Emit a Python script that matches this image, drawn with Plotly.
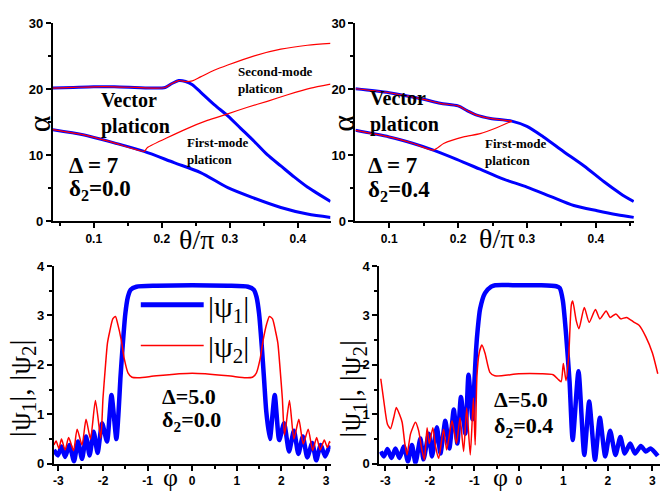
import plotly.graph_objects as go

# ---------------- data ----------------
# Top-left panel (delta2 = 0.0): alpha vs theta/pi
tl_upper_theta = [0.04, 0.07, 0.10, 0.13, 0.16, 0.19, 0.205, 0.215, 0.225, 0.235, 0.245, 0.257, 0.277, 0.297, 0.316, 0.336, 0.355, 0.375, 0.395, 0.414, 0.434, 0.448]
tl_upper_alpha = [20.2, 20.3, 20.4, 20.4, 20.3, 20.2, 20.3, 20.9, 21.35, 21.2, 20.7, 19.6, 17.7, 16.0, 14.1, 12.1, 10.1, 8.4, 6.7, 5.2, 3.9, 3.0]
tl_lower_theta = [0.04, 0.086, 0.13, 0.174, 0.218, 0.257, 0.297, 0.336, 0.375, 0.414, 0.448]
tl_lower_alpha = [13.9, 13.1, 11.9, 10.6, 8.9, 7.4, 5.1, 3.5, 2.1, 1.1, 0.6]
tl_red2_theta = [0.04, 0.07, 0.10, 0.13, 0.16, 0.19, 0.205, 0.215, 0.225, 0.235, 0.245, 0.257, 0.277, 0.297, 0.336, 0.375, 0.414, 0.448]
tl_red2_alpha = [20.2, 20.3, 20.4, 20.4, 20.3, 20.2, 20.3, 20.9, 21.35, 21.2, 21.3, 21.9, 22.9, 23.7, 25.1, 26.1, 26.7, 27.0]
tl_red1_theta = [0.04, 0.086, 0.13, 0.174, 0.179, 0.238, 0.267, 0.297, 0.326, 0.355, 0.385, 0.419, 0.448]
tl_red1_alpha = [13.9, 13.1, 11.9, 10.6, 11.2, 14.1, 15.3, 16.3, 17.3, 18.2, 19.2, 20.2, 20.8]

# Top-right panel (delta2 = 0.4)
tr_upper_theta = [0.051, 0.10, 0.15, 0.174, 0.20, 0.213, 0.227, 0.247, 0.278, 0.30, 0.324, 0.353, 0.383, 0.412, 0.436, 0.455]
tr_upper_alpha = [20.1, 19.5, 18.5, 17.9, 17.5, 16.8, 16.1, 15.6, 15.2, 14.4, 12.8, 10.6, 8.4, 6.0, 4.2, 3.0]
tr_lower_theta = [0.051, 0.10, 0.135, 0.164, 0.198, 0.232, 0.266, 0.30, 0.334, 0.368, 0.402, 0.431, 0.455]
tr_lower_alpha = [13.8, 12.8, 11.8, 10.8, 9.4, 7.9, 6.4, 5.2, 3.8, 2.4, 1.6, 1.0, 0.6]
tr_red_up_theta = [0.051, 0.10, 0.15, 0.174, 0.20, 0.213, 0.227, 0.247, 0.278]
tr_red_up_alpha = [20.1, 19.5, 18.5, 17.9, 17.5, 16.8, 16.1, 15.6, 15.2]
tr_red_low_theta = [0.051, 0.10, 0.135, 0.164, 0.179, 0.208, 0.232, 0.256, 0.278]
tr_red_low_alpha = [13.8, 12.8, 11.8, 10.8, 11.8, 12.8, 13.3, 14.2, 15.2]

# Bottom-left panel (Delta = 5.0, delta2 = 0.0): |psi1|, |psi2| vs phi
bl_psi1_phi = [-3.10, -3.01, -2.93, -2.85, -2.75, -2.65, -2.56, -2.47, -2.38, -2.30, -2.21, -2.12, -2.02, -1.91, -1.81, -1.70,
               -1.65, -1.61, -1.56, -1.50, -1.44, -1.38, -1.25, -0.8, 0.0, 0.8, 1.25, 1.38, 1.44, 1.50, 1.56, 1.61, 1.66,
               1.74, 1.85, 1.95, 2.06, 2.17, 2.28, 2.38, 2.48, 2.58, 2.69, 2.78, 2.88, 2.98, 3.07, 3.10]
bl_psi1_val = [0.28, 0.17, 0.35, 0.14, 0.38, 0.05, 0.45, 0.10, 0.55, 0.17, 0.65, 0.22, 0.82, 0.45, 1.39, 0.50,
               1.06, 1.72, 2.37, 3.03, 3.38, 3.52, 3.58, 3.60, 3.61, 3.60, 3.58, 3.52, 3.38, 3.03, 2.37, 1.72, 1.06,
               0.50, 1.39, 0.48, 0.82, 0.25, 0.67, 0.20, 0.55, 0.13, 0.42, 0.07, 0.38, 0.15, 0.33, 0.30]
bl_psi2_phi = [-3.10, -3.05, -2.99, -2.93, -2.85, -2.77, -2.66, -2.58, -2.47, -2.38, -2.28, -2.17, -2.05, -2.00, -1.95, -1.90,
               -1.85, -1.78, -1.72, -1.67, -1.59, -1.52, -1.44, -1.35, -1.2, -0.8, 0.0, 0.8, 1.2, 1.35, 1.44, 1.52, 1.59,
               1.67, 1.73, 1.80, 1.87, 1.92, 1.97, 2.02, 2.07, 2.18, 2.28, 2.39, 2.49, 2.60, 2.70, 2.79, 2.87, 2.96, 3.03, 3.08, 3.10]
bl_psi2_val = [0.38, 0.46, 0.31, 0.50, 0.28, 0.53, 0.27, 0.70, 0.38, 0.90, 0.50, 1.28, 0.52, 1.33, 1.92, 2.44,
               2.67, 2.93, 2.98, 2.83, 2.50, 2.11, 1.84, 1.75, 1.74, 1.78, 1.83, 1.78, 1.74, 1.75, 1.84, 2.11, 2.50,
               2.83, 2.98, 2.93, 2.67, 2.44, 1.92, 1.33, 0.58, 1.28, 0.50, 0.90, 0.40, 0.70, 0.27, 0.53, 0.28, 0.48, 0.33, 0.45, 0.42]

# Bottom-right panel (Delta = 5.0, delta2 = 0.4)
br_psi1_phi = [-3.10, -3.03, -2.95, -2.86, -2.77, -2.68, -2.58, -2.49, -2.40, -2.32, -2.21, -2.14, -2.02, -1.95, -1.84, -1.76,
               -1.65, -1.56, -1.46, -1.38, -1.30, -1.20, -1.13, -1.04, -1.00, -0.96, -0.92, -0.87, -0.76, -0.62, -0.53,
               0.0, 0.5, 0.84, 0.92, 0.99, 1.06, 1.14, 1.21, 1.34, 1.47, 1.58, 1.71, 1.82, 1.94, 2.05, 2.17, 2.28, 2.38,
               2.50, 2.61, 2.74, 2.85, 2.96, 3.12]
br_psi1_val = [0.25, 0.15, 0.30, 0.12, 0.31, 0.12, 0.35, 0.05, 0.38, 0.02, 0.51, 0.09, 0.61, 0.15, 0.74, 0.21,
               0.87, 0.31, 1.10, 0.41, 1.35, 0.61, 1.80, 0.90, 1.60, 2.30, 2.75, 3.13, 3.45, 3.58, 3.61,
               3.61, 3.61, 3.59, 3.55, 3.29, 2.63, 1.65, 0.48, 1.87, 0.18, 1.26, 0.08, 0.93, 0.15, 0.67, 0.18, 0.54, 0.21,
               0.41, 0.21, 0.36, 0.25, 0.31, 0.16]
br_psi2_phi = [-3.10, -3.03, -2.95, -2.88, -2.81, -2.75, -2.68, -2.62, -2.56, -2.51, -2.43, -2.32, -2.25, -2.17, -2.12, -2.06,
               -2.01, -1.93, -1.87, -1.80, -1.69, -1.62, -1.50, -1.40, -1.32, -1.24, -1.17, -1.09, -1.02, -0.98, -0.94,
               -0.89, -0.83, -0.76, -0.65, -0.54, 0.0, 0.5, 0.77, 0.88, 0.95, 1.00, 1.06, 1.12, 1.18, 1.21, 1.29, 1.35,
               1.47, 1.58, 1.72, 1.82, 1.96, 2.05, 2.18, 2.29, 2.42, 2.59, 2.70, 2.85, 3.00, 3.12]
br_psi2_val = [1.72, 1.26, 0.80, 0.71, 0.93, 1.14, 1.00, 0.84, 0.41, 0.18, 0.61, 0.84, 0.67, 0.25, 0.08, 0.73,
               0.41, 0.73, 0.35, 0.11, 0.70, 0.28, 0.87, 0.41, 0.93, 0.25, 1.13, 0.18, 1.33, 0.38, 1.78,
               2.24, 2.40, 2.24, 1.85, 1.78, 1.82, 1.82, 1.80, 1.71, 1.66, 2.03, 1.68, 2.18, 3.22, 3.29, 2.89, 2.73,
               3.16, 2.86, 3.12, 2.93, 3.09, 2.96, 3.03, 2.93, 2.96, 2.86, 2.80, 2.57, 2.24, 1.82]

BLUE = "#0000FF"
RED = "#FF0000"
SERIF = "Liberation Serif, Times New Roman, serif"
SANS = "Liberation Sans, Arial, sans-serif"
W, H = 660, 498

def px(X):
    return X / W

def py(Y):
    return 1 - Y / H

fig = go.Figure()

def add_line(x, y, axis, color, width, shape="spline", smoothing=0.8):
    xa, ya = axis
    fig.add_trace(go.Scatter(x=x, y=y, mode="lines", xaxis=xa, yaxis=ya, showlegend=False,
                             line=dict(color=color, width=width, shape=shape, smoothing=smoothing),
                             hoverinfo="skip"))

# top-left
add_line(tl_upper_theta, tl_upper_alpha, ("x", "y"), BLUE, 3)
add_line(tl_lower_theta, tl_lower_alpha, ("x", "y"), BLUE, 3)
add_line(tl_red2_theta, tl_red2_alpha, ("x", "y"), RED, 1.2)
add_line(tl_red1_theta, tl_red1_alpha, ("x", "y"), RED, 1.2, smoothing=0.5)
# top-right
add_line(tr_upper_theta, tr_upper_alpha, ("x2", "y2"), BLUE, 3)
add_line(tr_lower_theta, tr_lower_alpha, ("x2", "y2"), BLUE, 3)
add_line(tr_red_up_theta, tr_red_up_alpha, ("x2", "y2"), RED, 1.2)
add_line(tr_red_low_theta, tr_red_low_alpha, ("x2", "y2"), RED, 1.2, smoothing=0.5)
# bottom-left
add_line(bl_psi1_phi, bl_psi1_val, ("x3", "y3"), BLUE, 4.5, smoothing=0.6)
add_line(bl_psi2_phi, bl_psi2_val, ("x3", "y3"), RED, 1.5, smoothing=0.6)
# bottom-right
add_line(br_psi1_phi, br_psi1_val, ("x4", "y4"), BLUE, 4.5, smoothing=0.6)
add_line(br_psi2_phi, br_psi2_val, ("x4", "y4"), RED, 1.5, smoothing=0.6)

tickfont_y = dict(family=SANS, size=13, color="black", weight="bold")
tickfont_x = dict(family=SANS, size=12, color="black", weight="bold")

def axis_common():
    return dict(showline=True, linecolor="black", linewidth=2, ticks="outside", ticklen=5,
                tickwidth=1.5, tickcolor="black", showgrid=False, zeroline=False, mirror=False,
                ticklabeloverflow="allow")

top_y = dict(range=[0, 30], tick0=0, dtick=10, tickfont=tickfont_y,
             minor=dict(dtick=5, ticks="outside", ticklen=3, tickwidth=1.5, tickcolor="black", showgrid=False),
             **axis_common())
top_x_minor = dict(dtick=0.05, tick0=0, ticks="outside", ticklen=3, tickwidth=1.5, tickcolor="black", showgrid=False)
bot_y = dict(range=[0, 4], tick0=0, dtick=1, tickfont=tickfont_y,
             minor=dict(dtick=0.5, ticks="outside", ticklen=3, tickwidth=1.5, tickcolor="black", showgrid=False),
             **axis_common())
bot_ticks = [-3, -2, -1, 0, 1, 2, 3]
bot_ticktext = ["-3", "-2", "-1", "0", "1", "2", "3"]
bot_x_minor = dict(dtick=0.5, tick0=0, ticks="outside", ticklen=3, tickwidth=1.5, tickcolor="black", showgrid=False)

fig.update_layout(
    width=W, height=H, margin=dict(l=0, r=0, t=0, b=0),
    paper_bgcolor="white", plot_bgcolor="white", showlegend=False,
    xaxis=dict(domain=[px(52), px(330)], range=[0.04, 0.448], anchor="y",
               tickformat=".1f", tickvals=[0.1, 0.2, 0.3, 0.4], tickfont=tickfont_x, minor=top_x_minor, **axis_common()),
    yaxis=dict(domain=[py(221), py(17)], anchor="x", **top_y),
    xaxis2=dict(domain=[px(355), px(634)], range=[0.051, 0.4555], anchor="y2",
                tickvals=[0.1, 0.2, 0.3, 0.4], tickformat=".1f", tickfont=tickfont_x, minor=top_x_minor, **axis_common()),
    yaxis2=dict(domain=[py(221), py(17)], anchor="x2", **top_y),
    xaxis3=dict(domain=[px(53), px(330)], range=[-3.1, 3.1], anchor="y3", tickvals=bot_ticks, ticktext=bot_ticktext,
                tickfont=tickfont_x, minor=bot_x_minor, **axis_common()),
    yaxis3=dict(domain=[py(471), py(267)], anchor="x3", **bot_y),
    xaxis4=dict(domain=[px(379), px(660)], range=[-3.13, 3.17], anchor="y4", tickvals=bot_ticks, ticktext=bot_ticktext,
                tickfont=tickfont_x, minor=bot_x_minor, **axis_common()),
    yaxis4=dict(domain=[py(471), py(267)], anchor="x4", **bot_y),
)

def note(text, X, Y, size, xanchor="left", bold=True, angle=0, yanchor="middle"):
    t = f"<b>{text}</b>" if bold else text
    fig.add_annotation(x=px(X), y=py(Y), xref="paper", yref="paper", text=t, showarrow=False,
                       xanchor=xanchor, yanchor=yanchor, align="left", textangle=angle,
                       font=dict(family=SERIF, size=size, color="black"))

# top-left labels
note("Vector<br>platicon", 98, 110, 20)
note("Δ = 7", 66, 163, 23)
note("δ<sub>2</sub>=0.0", 66, 189, 23)
note("Second-mode<br>platicon", 235, 75, 13)
note("First-mode<br>platicon", 184, 148, 13)
# top-right labels
note("Vector<br>platicon", 368, 108, 20)
note("Δ = 7", 366, 163, 23)
note("δ<sub>2</sub>=0.4", 366, 190, 23)
note("First-mode<br>platicon", 483, 149, 13)
# bottom labels
note("Δ=5.0", 159, 402, 22)
note("δ<sub>2</sub>=0.0", 159, 427, 22)
note("Δ=5.0", 492, 405, 22)
note("δ<sub>2</sub>=0.4", 492, 433, 22)

# axis titles
note("α", 38, 120, 32, xanchor="center", bold=False, angle=-90)
note("α", 343, 120, 32, xanchor="center", bold=False, angle=-90)
note("θ/π", 196, 240, 28, xanchor="center", bold=False)
note("θ/π", 496, 239, 28, xanchor="center", bold=False)
note("φ", 170, 485, 26, xanchor="center", bold=False)
note("φ", 500, 485, 26, xanchor="center", bold=False)
note("|ψ<sub>1</sub>|, |ψ<sub>2</sub>|", 21, 393, 30, xanchor="center", bold=False, angle=-90)
note("|ψ<sub>1</sub>|, |ψ<sub>2</sub>|", 352, 393, 30, xanchor="center", bold=False, angle=-90)

# legend in bottom-left panel
fig.add_shape(type="line", xref="paper", yref="paper", x0=px(140), x1=px(203), y0=py(307), y1=py(307),
              line=dict(color=BLUE, width=5))
fig.add_shape(type="line", xref="paper", yref="paper", x0=px(140), x1=px(203), y0=py(349), y1=py(349),
              line=dict(color=RED, width=1.5))
note("|ψ<sub>1</sub>|", 205, 311, 30, bold=False)
note("|ψ<sub>2</sub>|", 205, 353, 30, bold=False)

fig.write_html("out.html", config={"displayModeBar": False},
               post_script="document.body.style.margin='0';document.body.style.padding='0';")
